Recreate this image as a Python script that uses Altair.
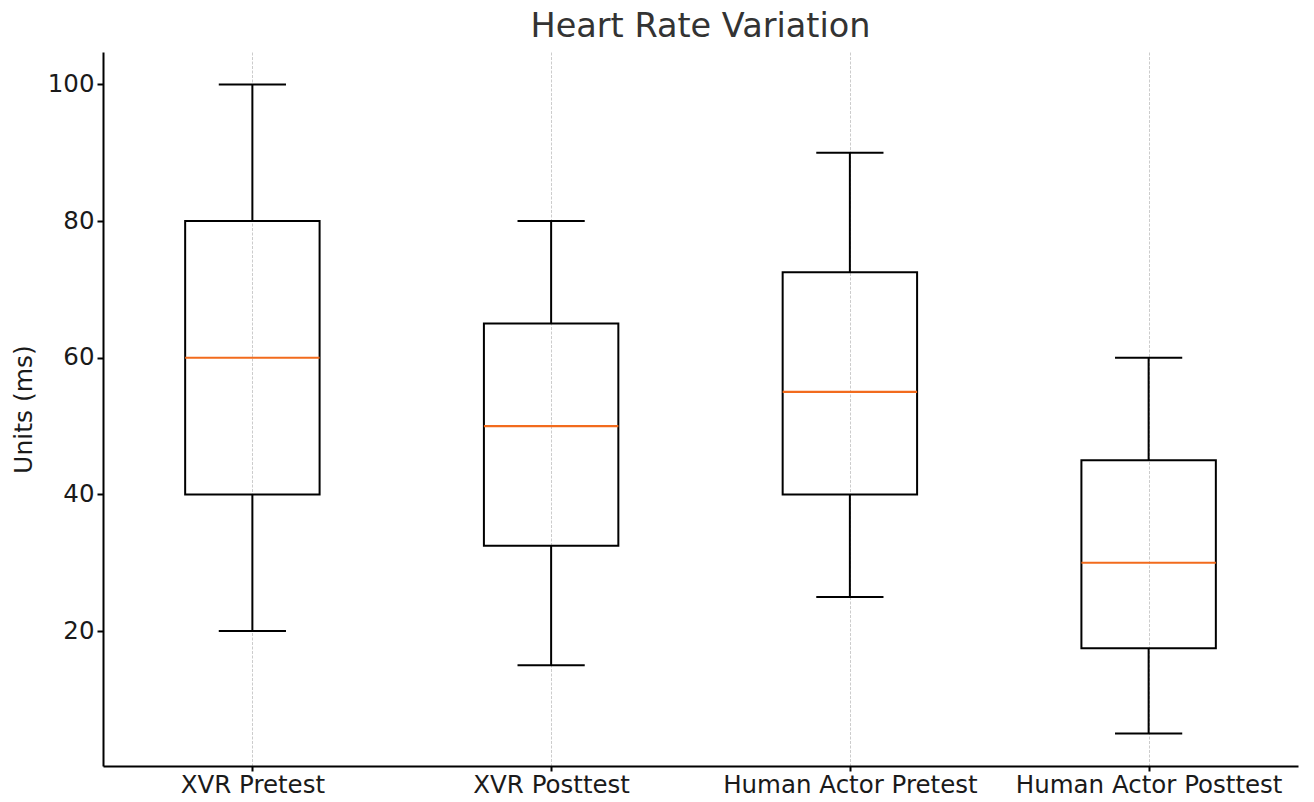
import altair as alt
import pandas as pd

categories = ["XVR Pretest", "XVR Posttest", "Human Actor Pretest", "Human Actor Posttest"]
mins = [20, 15, 25, 5]
q1s = [40, 32.5, 40, 17.5]
medians = [60, 50, 55, 30]
q3s = [80, 65, 72.5, 45]
maxs = [100, 80, 90, 60]
y_ticks = [20, 40, 60, 80, 100]

df = pd.DataFrame({
    "cat": categories,
    "pos": list(range(1, len(categories) + 1)),
    "lo": mins, "q1": q1s, "med": medians, "q3": q3s, "hi": maxs,
})

FONT = "DejaVu Sans"
label_expr = "[" + ",".join("'" + c + "'" for c in categories) + "][datum.value - 1]"

xscale = alt.Scale(domain=[0.5, 4.5], nice=False, zero=False)
yscale = alt.Scale(domain=[0.25, 104.75], nice=False, zero=False)

xaxis = alt.Axis(values=[1, 2, 3, 4], labelExpr=label_expr, title=None,
                 grid=True, gridDash=[3, 1.5], gridColor="#cccccc", gridWidth=1,
                 domainColor="black", domainWidth=2, tickColor="black", tickWidth=2,
                 tickSize=5, labelPadding=2, labelFont=FONT, labelFontSize=24.5,
                 labelColor="#1a1a1a", labelLimit=0)
yaxis = alt.Axis(values=y_ticks, title="Units (ms)", grid=False,
                 domainColor="black", domainWidth=2, tickColor="black", tickWidth=2,
                 tickSize=6, labelPadding=3, labelFont=FONT, labelFontSize=24.5,
                 labelColor="#1a1a1a", titleFont=FONT, titleFontSize=25,
                 titleFontWeight="normal", titleColor="#1a1a1a", titlePadding=11)

base = alt.Chart(df).transform_calculate(
    xl="datum.pos - 0.225", xr="datum.pos + 0.225",
    cl="datum.pos - 0.1125", cr="datum.pos + 0.1125",
)

grid_layer = base.mark_rule(opacity=0).encode(
    x=alt.X("pos:Q", scale=xscale, axis=xaxis),
    y=alt.Y("lo:Q", scale=yscale, axis=yaxis),
)

whisk_lo = base.mark_rule(color="black", strokeWidth=2).encode(
    x=alt.X("pos:Q", scale=xscale), y=alt.Y("lo:Q", scale=yscale), y2="q1:Q")
whisk_hi = base.mark_rule(color="black", strokeWidth=2).encode(
    x=alt.X("pos:Q", scale=xscale), y=alt.Y("q3:Q", scale=yscale), y2="hi:Q")
cap_lo = base.mark_rule(color="black", strokeWidth=2).encode(
    x=alt.X("cl:Q", scale=xscale), x2="cr:Q", y=alt.Y("lo:Q", scale=yscale))
cap_hi = base.mark_rule(color="black", strokeWidth=2).encode(
    x=alt.X("cl:Q", scale=xscale), x2="cr:Q", y=alt.Y("hi:Q", scale=yscale))
box = base.mark_rect(fillOpacity=0, stroke="black", strokeWidth=2).encode(
    x=alt.X("xl:Q", scale=xscale), x2="xr:Q",
    y=alt.Y("q1:Q", scale=yscale), y2="q3:Q")
med = base.mark_rule(color="#f26b1d", strokeWidth=2.2).encode(
    x=alt.X("xl:Q", scale=xscale), x2="xr:Q", y=alt.Y("med:Q", scale=yscale))

chart = alt.layer(grid_layer, whisk_lo, whisk_hi, cap_lo, cap_hi, box, med).properties(
    width=1195, height=714,
    title=alt.TitleParams("Heart Rate Variation", font=FONT, fontSize=33.5,
                          fontWeight="normal", color="#333333", anchor="middle", offset=8),
    autosize=alt.AutoSizeParams(type="none"),
    padding={"left": 95, "top": 44, "right": 8, "bottom": 28},
).configure(background="white", view=alt.ViewConfig(stroke="transparent", strokeWidth=0))

chart.save("out.html", embed_options={"renderer": "svg", "actions": False})
